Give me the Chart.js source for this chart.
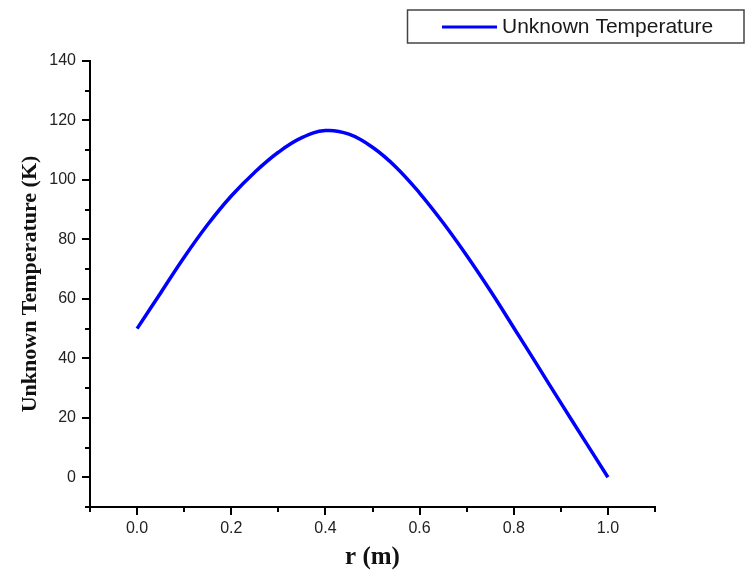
<!DOCTYPE html>
<html lang="en">
<head>
    <meta charset="UTF-8">
    <title>Unknown Temperature</title>
    <script src="https://cdn.jsdelivr.net/npm/chart.js"></script>
    <style>
        body {
            margin: 0;
            background-color: #ffffff;
        }
        #chart {
            display: block;
        }
    </style>
</head>
<body>
    <canvas id="chart" width="745" height="574"></canvas>
    <script>
        // values
        const rValues = [0.00, 0.05, 0.10, 0.15, 0.20, 0.25, 0.30, 0.35, 0.40, 0.45, 0.50,
                         0.55, 0.60, 0.65, 0.70, 0.75, 0.80, 0.85, 0.90, 0.95, 1.00];
        const tempValues = [50, 62, 74, 85, 94.6, 102.6, 109.3, 114.2, 116.6, 115.4, 111,
                            104.3, 95.6, 85.6, 74.6, 62.8, 50.3, 37.7, 25, 12.5, 0];
        const seriesLabel = 'Unknown Temperature';
        const xTitle = 'r (m)';
        const yTitle = 'Unknown Temperature (K)';

        const points = rValues.map((r, i) => ({ x: r, y: tempValues[i] }));

        const isMajorX = v => Math.round(v * 10) % 2 === 0 && v > -0.05 && v < 1.05;
        const isMajorY = v => Math.round(v) % 20 === 0 && v >= 0;

        // ticks with long major / short minor marks
        const tickMarks = {
            id: 'tickMarks',
            afterDraw(chart) {
                const ctx = chart.ctx;
                const xs = chart.scales.x;
                const ys = chart.scales.y;
                ctx.save();
                ctx.strokeStyle = '#000';
                ctx.lineWidth = 2;
                ctx.beginPath();
                xs.ticks.forEach(t => {
                    const px = Math.round(xs.getPixelForValue(t.value));
                    const len = isMajorX(t.value) ? 8 : 5;
                    ctx.moveTo(px, xs.top);
                    ctx.lineTo(px, xs.top + len);
                });
                ys.ticks.forEach(t => {
                    const py = Math.round(ys.getPixelForValue(t.value));
                    const len = isMajorY(t.value) ? 8 : 5;
                    ctx.moveTo(ys.right, py);
                    ctx.lineTo(ys.right - len, py);
                });
                ctx.stroke();
                ctx.restore();
            }
        };

        // boxed legend in the top right corner
        const boxLegend = {
            id: 'boxLegend',
            afterDraw(chart) {
                const ctx = chart.ctx;
                const ds = chart.data.datasets[0];
                ctx.save();
                ctx.strokeStyle = '#444';
                ctx.lineWidth = 1.5;
                ctx.strokeRect(407.5, 10, 336.5, 33);
                ctx.strokeStyle = ds.borderColor;
                ctx.lineWidth = 3;
                ctx.beginPath();
                ctx.moveTo(442, 27);
                ctx.lineTo(497, 27);
                ctx.stroke();
                ctx.fillStyle = '#1a1a1a';
                ctx.font = '21px "Liberation Sans", Arial, sans-serif';
                ctx.textBaseline = 'middle';
                ctx.fillText(ds.label, 502, 27);
                ctx.restore();
            }
        };

        const ctx = document.getElementById('chart').getContext('2d');
        const chart = new Chart(ctx, {
            type: 'line',
            data: {
                datasets: [{
                    label: seriesLabel,
                    data: points,
                    borderColor: '#0000ff',
                    borderWidth: 3.5,
                    pointRadius: 0,
                    tension: 0.4,
                    fill: false
                }]
            },
            options: {
                responsive: false,
                animation: false,
                layout: {
                    padding: { top: 61, right: 90, left: 0, bottom: 0 }
                },
                plugins: {
                    legend: { display: false },
                    tooltip: { enabled: false }
                },
                scales: {
                    x: {
                        type: 'linear',
                        min: -0.1,
                        max: 1.1,
                        afterFit: s => { s.height = 67; },
                        grid: { display: false, drawTicks: false },
                        border: { display: true, color: '#000', width: 2 },
                        ticks: {
                            stepSize: 0.1,
                            autoSkip: false,
                            maxRotation: 0,
                            padding: 12,
                            color: '#222',
                            font: { family: '"Liberation Sans", Arial, sans-serif', size: 16 },
                            callback: v => isMajorX(v) ? v.toFixed(1) : ''
                        },
                        title: {
                            display: true,
                            text: xTitle,
                            color: '#111',
                            padding: { top: 0, bottom: 1 },
                            font: { family: '"Liberation Serif", "Times New Roman", serif', size: 25, weight: 'bold' }
                        }
                    },
                    y: {
                        type: 'linear',
                        min: -10,
                        max: 140,
                        afterFit: s => { s.width = 90; },
                        grid: { display: false, drawTicks: false },
                        border: { display: true, color: '#000', width: 2 },
                        ticks: {
                            stepSize: 10,
                            autoSkip: false,
                            padding: 14,
                            color: '#222',
                            font: { family: '"Liberation Sans", Arial, sans-serif', size: 16 },
                            callback: v => isMajorY(v) ? String(v) : ''
                        },
                        title: {
                            display: true,
                            text: yTitle,
                            color: '#111',
                            padding: { top: 17, bottom: 0 },
                            font: { family: '"Liberation Serif", "Times New Roman", serif', size: 22, weight: 'bold' }
                        }
                    }
                }
            },
            plugins: [tickMarks, boxLegend]
        });
    </script>
</body>
</html>
